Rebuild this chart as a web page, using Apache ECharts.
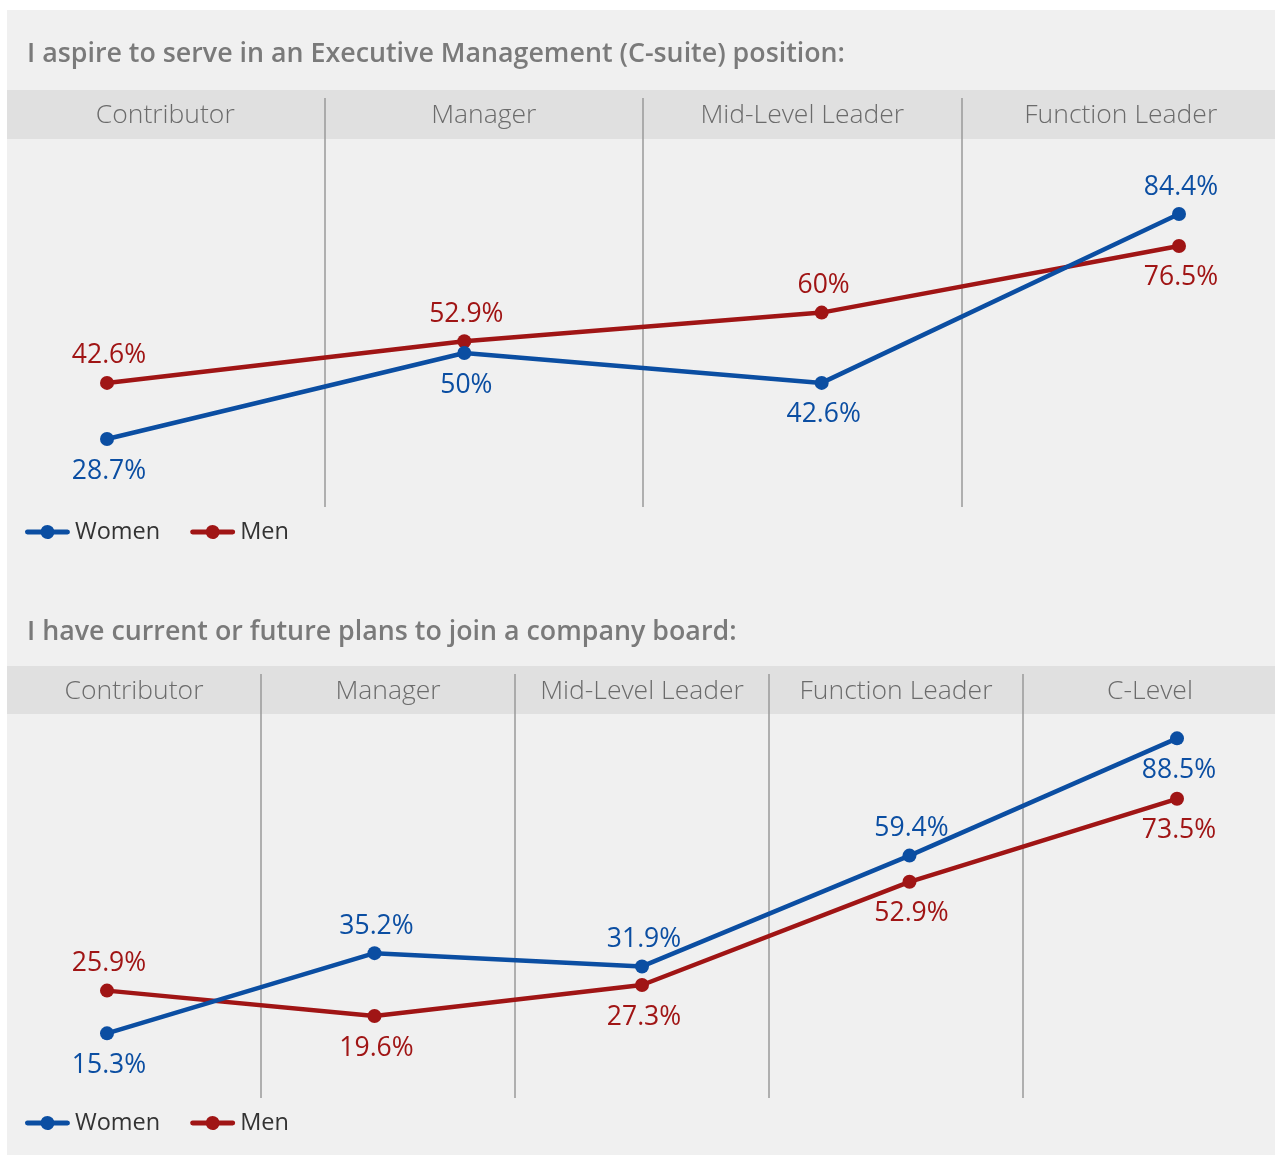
<!DOCTYPE html>
<html>
<head>
<meta charset="utf-8">
<script src="https://cdn.jsdelivr.net/npm/echarts@6/dist/echarts.min.js"></script>
<style>
  html, body { margin: 0; padding: 0; background: #fff; overflow: hidden; }
  #chart { width: 1290px; height: 1155px; }
</style>
</head>
<body>
<div id="chart"></div>
<script>
const titles = [
  'I aspire to serve in an Executive Management (C-suite) position:',
  'I have current or future plans to join a company board:',
];

const categories1 = ['Contributor', 'Manager', 'Mid-Level Leader', 'Function Leader'];
const women1 = [28.7, 50, 42.6, 84.4];
const men1 = [42.6, 52.9, 60, 76.5];

const categories2 = ['Contributor', 'Manager', 'Mid-Level Leader', 'Function Leader', 'C-Level'];
const women2 = [15.3, 35.2, 31.9, 59.4, 88.5];
const men2 = [25.9, 19.6, 27.3, 52.9, 73.5];

const BLUE = '#0b4ea2';
const RED = '#a01515';
const FONT = '"Open Sans", "Noto Sans", sans-serif';
// thick bar with a dot in the middle, like the legend markers of the original
const LEGEND_ICON = 'path://M2.5,5.5 H15.96 A7,7 0 0 1 29.04,5.5 H42.5 A2.5,2.5 0 0 1 42.5,10.5 H29.04 A7,7 0 0 1 15.96,10.5 H2.5 A2.5,2.5 0 0 1 2.5,5.5 Z';

const chart = echarts.init(document.getElementById('chart'));

// the higher series gets its label above, the lower one below (unless near the top edge)
function withLabels(values, others) {
  return values.map((v, i) => {
    const below = v > 85 || v < others[i];
    return {
      value: v,
      label: { position: below ? 'bottom' : 'top', distance: below ? 11.5 : 6.5 },
    };
  });
}

function headerAxis(gridIndex, data) {
  return {
    type: 'category',
    gridIndex,
    data,
    position: 'top',
    boundaryGap: true,
    axisLine: { show: false },
    axisTick: { show: false },
    axisLabel: {
      inside: true,
      interval: 0,
      margin: 4,
      fontFamily: FONT,
      fontSize: 26.5,
      fontWeight: 300,
      color: '#6b6b6b',
    },
    splitLine: {
      show: true,
      interval: 0,
      showMinLine: false,
      showMaxLine: false,
      lineStyle: { color: '#9a9a9a', width: 1.5 },
    },
  };
}

function lineAxis(gridIndex, data) {
  return { type: 'category', gridIndex, data, boundaryGap: false, show: false };
}

function series(name, color, xi, data) {
  return {
    name,
    type: 'line',
    xAxisIndex: xi,
    yAxisIndex: xi,
    data,
    symbol: 'circle',
    symbolSize: 14,
    lineStyle: { color, width: 4.5 },
    itemStyle: { color },
    label: {
      show: true,
      formatter: '{c}%',
      offset: [2, 0],
      fontFamily: FONT,
      fontSize: 26.5,
      color,
    },
    emphasis: { disabled: true },
    z: name === 'Women' ? 3 : 2,
  };
}

function legend(top) {
  return {
    data: [
      { name: 'Women', icon: LEGEND_ICON },
      { name: 'Men', icon: LEGEND_ICON },
    ],
    left: 25,
    top,
    padding: 0,
    itemWidth: 45,
    itemHeight: 14,
    itemGap: 30,
    selectedMode: false,
    textStyle: { fontFamily: FONT, fontSize: 23.5, color: '#333' },
  };
}

const option = {
  animation: false,
  graphic: [
    { type: 'rect', shape: { x: 7, y: 10, width: 1283, height: 1145 }, style: { fill: '#f0f0f0' }, z: -10 },
    { type: 'rect', shape: { x: 7, y: 90, width: 1283, height: 49 }, style: { fill: '#e0e0e0' }, z: -9 },
    { type: 'rect', shape: { x: 7, y: 666, width: 1283, height: 48 }, style: { fill: '#e0e0e0' }, z: -9 },
  ],
  title: [
    { text: titles[0], left: 22, top: 32 },
    { text: titles[1], left: 22, top: 610 },
  ].map((t) => ({
    ...t,
    textStyle: { fontFamily: FONT, fontSize: 26.8, fontWeight: 600, color: '#7a7a7a', lineHeight: 34 },
  })),
  legend: [legend(520), legend(1111)],
  grid: [
    { left: 6, top: 98, width: 1274, height: 409, outerBoundsMode: 'none' },
    { left: 107, top: 151, width: 1072, height: 404, outerBoundsMode: 'none' },
    { left: 7, top: 674, width: 1270, height: 424, outerBoundsMode: 'none' },
    { left: 107, top: 692, width: 1070, height: 403, outerBoundsMode: 'none' },
  ],
  xAxis: [
    headerAxis(0, categories1),
    lineAxis(1, categories1),
    headerAxis(2, categories2),
    lineAxis(3, categories2),
  ],
  yAxis: [0, 1, 2, 3].map((i) => ({ type: 'value', gridIndex: i, min: 0, max: 100, show: false })),
  series: [
    series('Men', RED, 1, withLabels(men1, women1)),
    series('Women', BLUE, 1, withLabels(women1, men1)),
    series('Men', RED, 3, withLabels(men2, women2)),
    series('Women', BLUE, 3, withLabels(women2, men2)),
  ],
};

chart.setOption(option);

window.addEventListener('resize', () => chart.resize());
</script>
</body>
</html>
